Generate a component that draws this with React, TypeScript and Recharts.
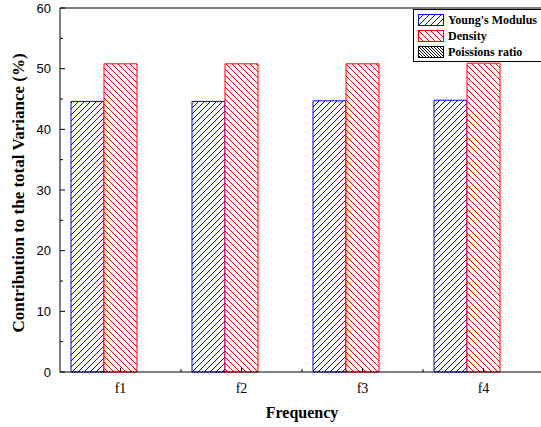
import { Bar, BarChart, ReferenceLine, XAxis, YAxis } from 'recharts'

const categories = ['f1', 'f2', 'f3', 'f4']
const youngsModulus = [44.6, 44.6, 44.7, 44.8]
const density = [50.8, 50.8, 50.8, 50.9]
const poissonsRatio = [0, 0, 0, 0]
const yTicks = [0, 5, 10, 15, 20, 25, 30, 35, 40, 45, 50, 55, 60]

const data = categories.map((c, i) => ({
  name: c,
  youngs: youngsModulus[i],
  density: density[i],
  poisson: poissonsRatio[i],
}))

const series = [
  { key: 'youngs', label: "Young's Modulus", color: '#0000ff', pat: 'pBlue' },
  { key: 'density', label: 'Density', color: '#ff0000', pat: 'pRed' },
  { key: 'poisson', label: 'Poissions ratio', color: '#000000', pat: 'pBlack' },
]

const serif = '"Liberation Serif", "Times New Roman", serif'
const sans = '"Liberation Sans", Arial, sans-serif'

// hatch fills, like the Origin plot
const hatchDefs = (
  <defs>
    <pattern id="pBlue" width="6" height="6" patternUnits="userSpaceOnUse">
      <rect width="6" height="6" fill="#ffffff" />
      <path d="M0,6 L6,0 M-1,1 L1,-1 M5,7 L7,5" stroke="#0000ff" strokeWidth="1" fill="none" />
    </pattern>
    <pattern id="pRed" width="6" height="6" patternUnits="userSpaceOnUse">
      <rect width="6" height="6" fill="#ffffff" />
      <path d="M0,0 L6,6 M-1,5 L1,7 M5,-1 L7,1" stroke="#ff0000" strokeWidth="1" fill="none" />
    </pattern>
    <pattern id="pBlack" width="3" height="3" patternUnits="userSpaceOnUse">
      <rect width="3" height="3" fill="#ffffff" />
      <path d="M0,0 L3,3 M-1,2 L1,4 M2,-1 L4,1" stroke="#000000" strokeWidth="1" fill="none" />
    </pattern>
  </defs>
)

const YTick = ({ x, y, payload }: any) => {
  const major = payload.value % 10 === 0
  return (
    <g>
      <line x1={x} y1={y} x2={x + (major ? 5 : 3)} y2={y} stroke="#000" />
      {major && (
        <text x={x - 9} y={y} textAnchor="end" dominantBaseline="central" fontFamily={sans} fontSize={13} fill="#000">
          {payload.value}
        </text>
      )}
    </g>
  )
}

const XTick = ({ x, y, payload }: any) => (
  <g>
    <line x1={x} y1={y} x2={x} y2={y - 4} stroke="#000" />
    <line x1={x + 60.5} y1={y} x2={x + 60.5} y2={y - 3} stroke="#000" />
    <text x={x} y={y + 16} textAnchor="middle" dominantBaseline="central" fontFamily={serif} fontSize={14} fill="#000">
      {payload.value}
    </text>
  </g>
)

const YLabel = () => (
  <text
    x={18}
    y={193}
    transform="rotate(-90 18 193)"
    textAnchor="middle"
    dominantBaseline="central"
    fontFamily={serif}
    fontWeight="bold"
    fontSize={17}
    fill="#000"
  >
    Contribution to the total Variance (%)
  </text>
)

const LegendBox = () => (
  <div
    style={{
      position: 'absolute',
      left: 413,
      top: 9,
      border: '1px solid #000',
      background: '#fff',
      padding: '2px 0 1px 4px',
      width: 140,
      fontFamily: serif,
      fontWeight: 'bold',
      fontSize: 12,
      lineHeight: '16px',
    }}
  >
    <svg width={0} height={0} style={{ position: 'absolute' }}>
      {hatchDefs}
    </svg>
    {series.map((s) => (
      <div key={s.key} style={{ display: 'flex', alignItems: 'center', height: 16 }}>
        <svg width={28} height={12} style={{ marginRight: 2 }}>
          <rect x={0.5} y={0.5} width={25} height={11} fill={`url(#${s.pat})`} stroke={s.color} />
        </svg>
        <span style={{ whiteSpace: 'nowrap' }}>{s.label}</span>
      </div>
    ))}
  </div>
)

export default function App() {
  return (
    <div style={{ position: 'absolute', left: 0, top: 0, width: 541, height: 427, overflow: 'hidden', background: '#fff' }}>
      <BarChart
        width={560}
        height={427}
        data={data}
        margin={{ top: 8, right: 16, left: 0, bottom: 0 }}
        barGap={0}
        barCategoryGap={11}
      >
        <XAxis
          dataKey="name"
          height={55}
          tickSize={0}
          tickMargin={0}
          tick={<XTick />}
          axisLine={{ stroke: '#000' }}
          label={{ value: 'Frequency', position: 'insideBottom', offset: 9, fontFamily: serif, fontWeight: 'bold', fontSize: 16, fill: '#000' }}
        />
        <YAxis
          width={60}
          domain={[0, 60]}
          ticks={yTicks}
          interval={0}
          tickSize={0}
          tickMargin={0}
          tick={<YTick />}
          axisLine={{ stroke: '#000' }}
          label={<YLabel />}
        />
        <ReferenceLine y={60} stroke="#000" />
        {series.map((s) => (
          <Bar
            key={s.key}
            dataKey={s.key}
            name={s.label}
            fill={`url(#${s.pat})`}
            stroke={s.color}
            strokeWidth={1}
            isAnimationActive={false}
          />
        ))}
      </BarChart>
      <LegendBox />
    </div>
  )
}
